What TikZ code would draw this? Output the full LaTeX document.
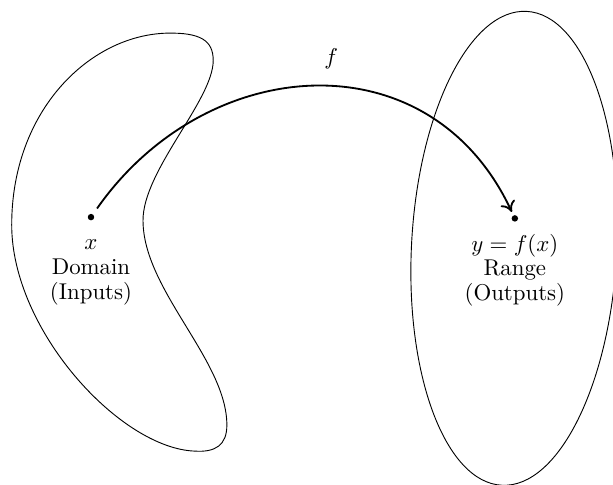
\documentclass[tikz,border=0pt]{standalone}
\usepackage{amsmath}
\usepackage{xcolor,tikz}
\usetikzlibrary{arrows.meta,positioning}
\tikzset{dot/.style={circle,fill=black,inner sep=1pt},
 set/.style={draw=black,thin},
 txt/.style={align=center,inner sep=1pt,font=\fontsize{10pt}{10.8pt}\selectfont},
 map/.style={-{To[length=1.6mm,width=2.4mm]},thick,shorten >=1.5pt,shorten <=3pt}}
\begin{document}
\begin{tikzpicture}
\useasboundingbox (0,0) rectangle (9.43,7.45);
\draw[set] (3.28,6.52) .. controls (3.28,5.91) and (2.2,4.83) .. (2.2,4.06)
 .. controls (2.2,2.99) and (3.49,1.91) .. (3.49,0.91)
 .. controls (3.49,0.6) and (3.31,0.49) .. (3.0,0.51)
 .. controls (1.85,0.55) and (0.18,2.37) .. (0.18,3.99)
 .. controls (0.18,5.75) and (1.38,6.91) .. (2.57,6.94)
 .. controls (3.08,6.95) and (3.28,6.83) .. cycle;
\draw[set,rotate around={-3:(7.91,3.63)}] (7.91,3.63) ellipse (1.58 and 3.65);
\node[dot] (xdot) at (1.40,4.11) {};
\node[dot] (ydot) at (7.92,4.09) {};
\node[txt,below=4pt of xdot] (dom) {\strut$x$\\Domain\\(Inputs)};
\node[txt,below=4pt of ydot] (ran) {\strut$y=f(x)$\\Range\\(Outputs)};
\draw[map] (xdot) to[out=55,in=115,looseness=1.2]
 node[above=4pt,pos=0.535] (flab) {$f$} (ydot);
\end{tikzpicture}
\end{document}
